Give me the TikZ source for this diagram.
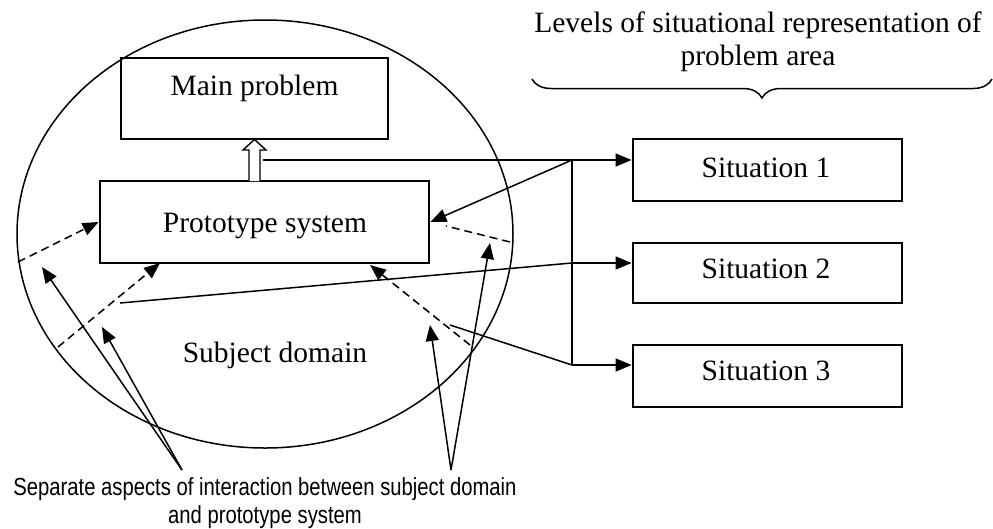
\documentclass[tikz,border=0pt]{standalone}
\usepackage{fontspec}
\setmainfont{Liberation Serif}
\newfontfamily\capfont{Liberation Sans}
\usepackage{graphicx}
\usetikzlibrary{arrows.meta,decorations.pathreplacing,calc}
\begin{document}
\begin{tikzpicture}[x=1pt,y=-1pt,
  box/.style={draw,line width=2.8pt,inner sep=0pt},
  lbl/.style={anchor=base,inner sep=0pt,font=\fontsize{29.5}{33}\selectfont},
  caplbl/.style={anchor=base,inner sep=0pt,font=\capfont\fontsize{22.5}{28}\selectfont},
  conn/.style={line width=1.5pt},
  arr/.style={conn,-{Triangle[length=16pt,width=13pt]}},
  dsh/.style={conn,dash pattern=on 8pt off 5pt},
  darr/.style={dsh,-{Triangle[length=16pt,width=13pt]}}]
\useasboundingbox (0,0) rectangle (993,528);

% subject domain ellipse
\draw[conn] (265,234) ellipse [x radius=248, y radius=214];

% boxes
\node[box,minimum width=267pt,minimum height=81pt] (main) at (254.5,98.5) {};
\node[box,minimum width=329pt,minimum height=82pt] (proto) at (264.5,222) {};
\node[box,minimum width=269pt,minimum height=62pt] (sit1) at (767.5,170) {};
\node[box,minimum width=269pt,minimum height=60pt] (sit2) at (767.5,273) {};
\node[box,minimum width=269pt,minimum height=62pt] (sit3) at (767.5,376) {};

% texts
\node[lbl] (tmain) at (254.5,95) {Main problem};
\node[lbl] (tproto) at (265,232) {Prototype system};
\node[lbl] (tsub) at (275,362) {Subject domain};
\node[lbl] (ts1) at (766,177) {Situation 1};
\node[lbl] (ts2) at (766,278) {Situation 2};
\node[lbl] (ts3) at (766,380) {Situation 3};
\node[lbl] (head1) at (758,32) {Levels of situational representation of};
\node[lbl] (head2) at (758,65) {problem area};
\node[caplbl] (cap1) at (265,495) {\scalebox{0.9}[1.1]{Separate aspects of interaction between subject domain}};
\node[caplbl] (cap2) at (265,523) {\scalebox{0.9}[1.1]{and prototype system}};

% brace
\draw[line width=1.5pt,decorate,decoration={brace,mirror,amplitude=19pt}] (532,79) -- (992,79);

% hollow arrow prototype -> main problem
\draw[line width=1.4pt,fill=white] (249,181) -- (249,150) -- (243,150) -- (254.5,139.5) -- (266,150) -- (260,150) -- (260,181);

% connectors to situations
\coordinate (a1) at (263,160);
\coordinate (j1) at (572,160);
\coordinate (j2) at (572,263);
\coordinate (j3) at (572,365);
\coordinate (s2) at (120,303);
\coordinate (s3) at (450,325);
\draw[conn] (a1) -- (j1);
\draw[arr] (j1) -- (sit1.west |- j1);
\draw[conn] (j1) -- (j3);
\draw[arr] (j3) -- (sit3.west |- j3);
\draw[conn] (s2) -- (j2);
\draw[arr] (j2) -- (sit2.west |- j2);
\draw[conn] (s3) -- (j3);
\draw[arr] (j1) -- (proto.east);

% dashed interaction aspects
\coordinate (e1) at (510,242);
\coordinate (e1b) at (446,226);
\draw[dsh] (e1) -- (e1b);
\coordinate (e2) at (18,262);
\draw[darr] (e2) -- (proto.west);
\coordinate (e3) at (58,347);
\coordinate (t3) at (160,263);
\draw[darr] (e3) -- (t3);
\coordinate (e4) at (470,345);
\coordinate (t4) at (370,265);
\draw[darr] (e4) -- (t4);

% caption pointers
\coordinate (p1) at (182,470);
\coordinate (q1) at (42,267);
\coordinate (q2) at (102,327);
\coordinate (p2) at (451,470);
\coordinate (q3) at (430,325);
\coordinate (q4) at (490,243);
\draw[arr] (p1) -- (q1);
\draw[arr] (p1) -- (q2);
\draw[arr] (p2) -- (q3);
\draw[arr] (p2) -- (q4);
\end{tikzpicture}
\end{document}
